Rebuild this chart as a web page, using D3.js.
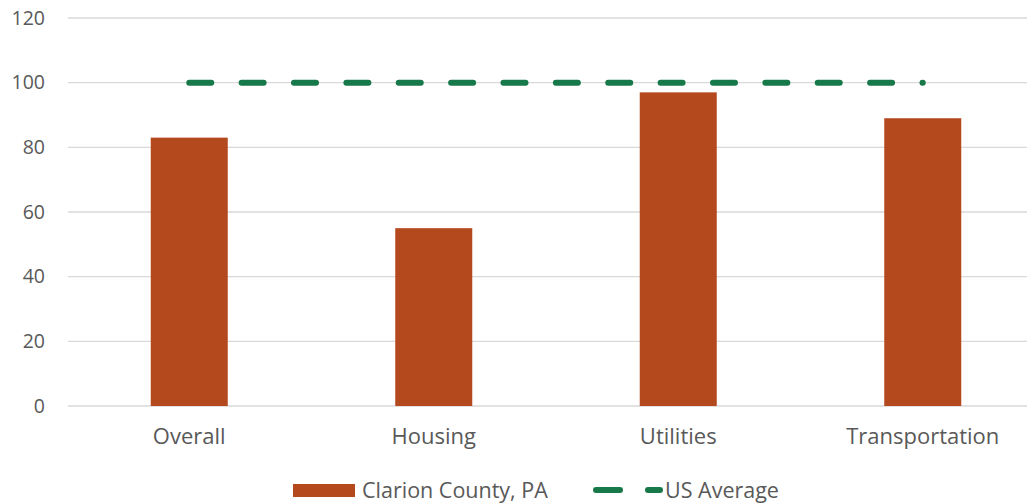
<!DOCTYPE html>
<html>
<head>
<meta charset="utf-8">
<script src="https://cdn.jsdelivr.net/npm/d3@7"></script>
<style>
  body { margin: 0; background: #fff; }
  svg { font-family: "Open Sans", sans-serif; }
</style>
</head>
<body>
<div id="chart"></div>
<script>
let categories = ['Overall', 'Housing', 'Utilities', 'Transportation'];
let countyValues = [83, 55, 97, 89];
let usAverage = [100, 100, 100, 100];
let yTicks = [0, 20, 40, 60, 80, 100, 120];
let seriesNames = ['Clarion County, PA', 'US Average'];

let width = 1027;
let height = 503;
let barColor = '#b4491e';
let lineColor = '#17784a';
let textColor = '#595959';
let fontFamily = '"Open Sans", sans-serif';

let svg = d3.select('#chart')
    .append('svg')
    .attr('width', width)
    .attr('height', height);

// plot area runs a bit past the right edge, like the cropped original
let xScale = d3.scaleBand()
    .domain(categories)
    .range([67, 1045])
    .paddingInner(0.685)
    .paddingOuter(0.3425);

let yScale = d3.scaleLinear()
    .domain([0, 120])
    .range([406, 18]);

// gridlines
svg.append('g')
    .selectAll('line')
    .data(yTicks)
    .enter()
    .append('line')
    .attr('x1', 68)
    .attr('x2', width)
    .attr('y1', d => yScale(d))
    .attr('y2', d => yScale(d))
    .attr('stroke', '#d9d9d9')
    .attr('stroke-width', 1.3);

// y axis labels
let yAxis = d3.axisLeft(yScale).tickValues(yTicks).tickSize(0).tickPadding(0);
let yg = svg.append('g')
    .attr('transform', 'translate(45,0)')
    .call(yAxis)
    .attr('font-family', fontFamily)
    .attr('font-size', 19.5);
yg.select('.domain').remove();
yg.selectAll('text')
    .attr('fill', textColor);

// bars
svg.append('g')
    .selectAll('rect')
    .data(categories)
    .enter()
    .append('rect')
    .attr('x', d => xScale(d))
    .attr('y', (d, i) => yScale(countyValues[i]))
    .attr('width', xScale.bandwidth())
    .attr('height', (d, i) => yScale(0) - yScale(countyValues[i]))
    .attr('fill', barColor);

// x axis labels
let xAxis = d3.axisBottom(xScale).tickSize(0).tickPadding(0);
let xg = svg.append('g')
    .attr('transform', 'translate(0,428)')
    .call(xAxis)
    .attr('font-family', fontFamily)
    .attr('font-size', 22);
xg.select('.domain').remove();
xg.selectAll('text')
    .attr('fill', textColor);

// US average dashed line, 14 dash periods between first and last centre
let line = d3.line()
    .x((d, i) => xScale(categories[i]) + xScale.bandwidth() / 2)
    .y(d => yScale(d));

let span = (xScale(categories[3]) - xScale(categories[0]));
svg.append('path')
    .datum(usAverage)
    .attr('d', line)
    .attr('fill', 'none')
    .attr('stroke', lineColor)
    .attr('stroke-width', 6)
    .attr('stroke-linecap', 'round')
    .attr('stroke-dasharray', '22,' + (span / 14 - 22 - 0.02));

// legend
let legend = svg.append('g')
    .attr('font-family', fontFamily)
    .attr('font-size', 21.5)
    .attr('fill', textColor);

legend.append('rect')
    .attr('x', 293)
    .attr('y', 484)
    .attr('width', 62)
    .attr('height', 13)
    .attr('fill', barColor);
legend.append('text')
    .attr('x', 362)
    .attr('y', 498)
    .text(seriesNames[0]);

legend.append('line')
    .attr('x1', 596).attr('x2', 620)
    .attr('y1', 490).attr('y2', 490)
    .attr('stroke', lineColor)
    .attr('stroke-width', 6)
    .attr('stroke-linecap', 'round');
legend.append('line')
    .attr('x1', 648).attr('x2', 660)
    .attr('y1', 490).attr('y2', 490)
    .attr('stroke', lineColor)
    .attr('stroke-width', 6)
    .attr('stroke-linecap', 'round');
legend.append('text')
    .attr('x', 665)
    .attr('y', 498)
    .text(seriesNames[1]);
</script>
</body>
</html>
